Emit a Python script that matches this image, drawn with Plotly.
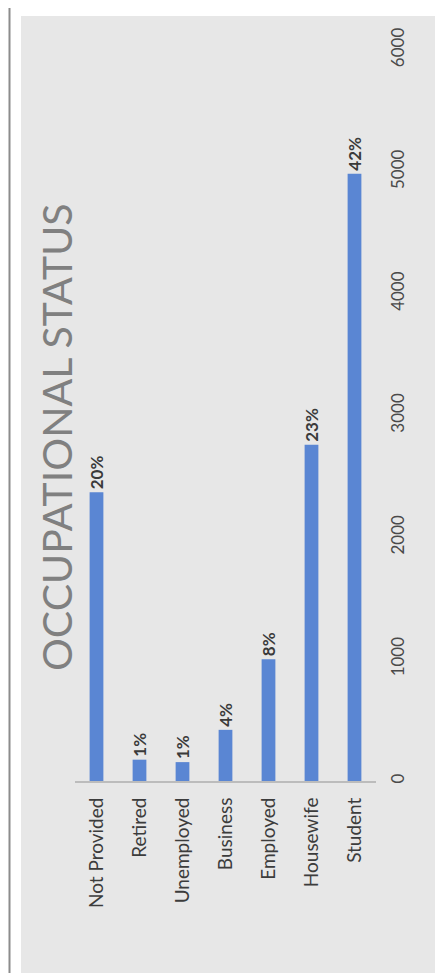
import plotly.graph_objects as go

categories = ["Not Provided", "Retired", "Unemployed", "Business", "Employed", "Housewife", "Student"]
counts = [2370, 175, 155, 420, 1000, 2760, 4985]
pct_labels = ["20%", "1%", "1%", "4%", "8%", "23%", "42%"]
value_ticks = [0, 1000, 2000, 3000, 4000, 5000, 6000]
title_text = "OCCUPATIONAL STATUS"

W, H = 443, 973

def px_x(p):
    return p / W

def px_y(p):
    return 1 - p / H

fig = go.Figure()
fig.add_trace(go.Bar(
    x=categories,
    y=counts,
    marker=dict(color="#5A86D3", line=dict(width=0)),
    width=0.32,
    text=pct_labels,
    textposition="outside",
    textangle=-90,
    textfont=dict(family="Lato", size=17, color="#3a3a3a", weight="bold"),
    cliponaxis=False,
    constraintext="none",
    showlegend=False,
))

fig.update_layout(
    width=W, height=H,
    margin=dict(l=0, r=0, t=0, b=0),
    paper_bgcolor="white",
    plot_bgcolor="rgba(0,0,0,0)",
    bargap=0.68,
    xaxis=dict(
        domain=[px_x(67), px_x(368)],
        showgrid=False, zeroline=False,
        showline=True, linecolor="#bcbcbc", linewidth=2,
        ticks="", tickangle=-90,
        tickfont=dict(family="Lato", size=19, color="#3c3c3c"),
        ticklabelstandoff=7,
        automargin=False,
    ),
    yaxis=dict(
        domain=[px_y(773), px_y(42)],
        range=[0, 6000],
        tickvals=value_ticks,
        side="right",
        showgrid=False, zeroline=False, showline=False,
        ticks="", tickangle=-90,
        tickfont=dict(family="Lato", size=17, color="#4a4a4a"),
        ticklabelstandoff=10,
        automargin=False,
    ),
    shapes=[
        dict(type="rect", xref="paper", yref="paper",
             x0=px_x(13), x1=px_x(433), y0=px_y(972), y1=px_y(8),
             fillcolor="#e7e7e7", line=dict(width=0), layer="below"),
        dict(type="line", xref="paper", yref="paper",
             x0=px_x(1.5), x1=px_x(1.5), y0=0, y1=1,
             line=dict(color="#8c8c8c", width=2), layer="below"),
    ],
    annotations=[
        dict(text=title_text, xref="paper", yref="paper",
             x=px_x(48), y=px_y(429), showarrow=False, textangle=-90,
             xanchor="center", yanchor="middle",
             font=dict(family="Lato", size=41, color="#808080")),
    ],
)

fig.write_html("out.html")
